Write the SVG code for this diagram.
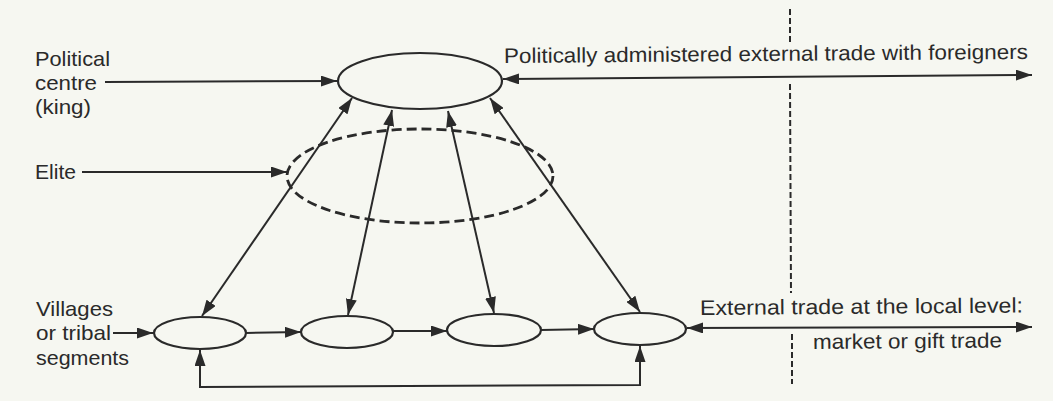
<svg xmlns="http://www.w3.org/2000/svg" width="1053" height="401" viewBox="0 0 1053 401">
  <defs>
    <marker id="head" viewBox="0 0 16 11" refX="16" refY="5.5" markerWidth="16" markerHeight="11" markerUnits="userSpaceOnUse" orient="auto-start-reverse">
      <path d="M0,0 L16,5.5 L0,11 z" fill="#2a2a2a"/>
    </marker>
    <style>
      .lbl { font-family: "Liberation Sans", Arial, sans-serif; font-size: 21px; fill: #2a2a2a; }
      .node { fill: none; stroke: #2a2a2a; stroke-width: 2.2; }
      .elite { fill: none; stroke: #2a2a2a; stroke-width: 2.8; stroke-dasharray: 10 5; }
      .edge { fill: none; stroke: #2a2a2a; stroke-width: 2; }
      .one { marker-end: url(#head); }
      .two { marker-start: url(#head); marker-end: url(#head); }
      .divider { fill: none; stroke: #2a2a2a; stroke-width: 2; stroke-dasharray: 6 3; }
    </style>
  </defs>

  <rect x="0" y="0" width="1053" height="401" fill="#f6f7f1"/>

  <!-- boundary between internal and external exchange -->
  <g id="boundary">
    <line class="divider" x1="790" y1="9" x2="790" y2="43"/>
    <line class="divider" x1="790" y1="84" x2="791" y2="293"/>
    <line class="divider" x1="792" y1="334" x2="792" y2="384"/>
  </g>

  <!-- side labels -->
  <g id="label-centre">
    <text class="lbl" x="35" y="66" textLength="75" lengthAdjust="spacingAndGlyphs">Political</text>
    <text class="lbl" x="35" y="90" textLength="62" lengthAdjust="spacingAndGlyphs">centre</text>
    <text class="lbl" x="35" y="114" textLength="56" lengthAdjust="spacingAndGlyphs">(king)</text>
  </g>
  <g id="label-elite">
    <text class="lbl" x="35" y="179" textLength="41" lengthAdjust="spacingAndGlyphs">Elite</text>
  </g>
  <g id="label-villages">
    <text class="lbl" x="36" y="316" textLength="77" lengthAdjust="spacingAndGlyphs">Villages</text>
    <text class="lbl" x="36" y="340" textLength="75" lengthAdjust="spacingAndGlyphs">or tribal</text>
    <text class="lbl" x="36" y="365" textLength="93" lengthAdjust="spacingAndGlyphs">segments</text>
  </g>
  <g id="label-foreign-trade">
    <text class="lbl" x="504" y="63" textLength="524" lengthAdjust="spacingAndGlyphs" transform="rotate(-0.45 504 63)">Politically administered external trade with foreigners</text>
  </g>
  <g id="label-local-trade">
    <text class="lbl" x="700" y="315" textLength="323" lengthAdjust="spacingAndGlyphs" transform="rotate(-0.45 700 315)">External trade at the local level:</text>
    <text class="lbl" x="813" y="349" textLength="189" lengthAdjust="spacingAndGlyphs" transform="rotate(-0.45 813 349)">market or gift trade</text>
  </g>

  <!-- nodes -->
  <g id="king">
    <ellipse class="node" cx="420" cy="81" rx="82" ry="28"/>
  </g>
  <g id="elite">
    <ellipse class="elite" cx="420" cy="176" rx="133" ry="47"/>
  </g>
  <g id="village-1">
    <ellipse class="node" cx="200" cy="333" rx="46" ry="16"/>
  </g>
  <g id="village-2">
    <ellipse class="node" cx="347" cy="332" rx="46" ry="16"/>
  </g>
  <g id="village-3">
    <ellipse class="node" cx="494" cy="330" rx="47" ry="16"/>
  </g>
  <g id="village-4">
    <ellipse class="node" cx="640" cy="329" rx="46" ry="16"/>
  </g>

  <!-- connectors -->
  <g id="connectors">
    <line class="edge one" x1="105" y1="82" x2="337" y2="81"/>
    <line class="edge one" x1="82" y1="172" x2="287" y2="172"/>
    <line class="edge one" x1="113" y1="333" x2="153" y2="333"/>

    <line class="edge two" x1="503" y1="79" x2="1032" y2="75"/>
    <line class="edge two" x1="687" y1="328" x2="1032" y2="327"/>

    <line class="edge two" x1="352" y1="98" x2="202" y2="316"/>
    <line class="edge two" x1="392" y1="110" x2="348" y2="315"/>
    <line class="edge two" x1="448" y1="111" x2="494" y2="313"/>
    <line class="edge two" x1="490" y1="98" x2="640" y2="312"/>

    <line class="edge one" x1="246" y1="333" x2="301" y2="332"/>
    <line class="edge one" x1="393" y1="331" x2="447" y2="331"/>
    <line class="edge one" x1="541" y1="330" x2="594" y2="329"/>

    <path class="edge two" d="M200,350 L200,387 L640,385 L640,346"/>
  </g>
</svg>
